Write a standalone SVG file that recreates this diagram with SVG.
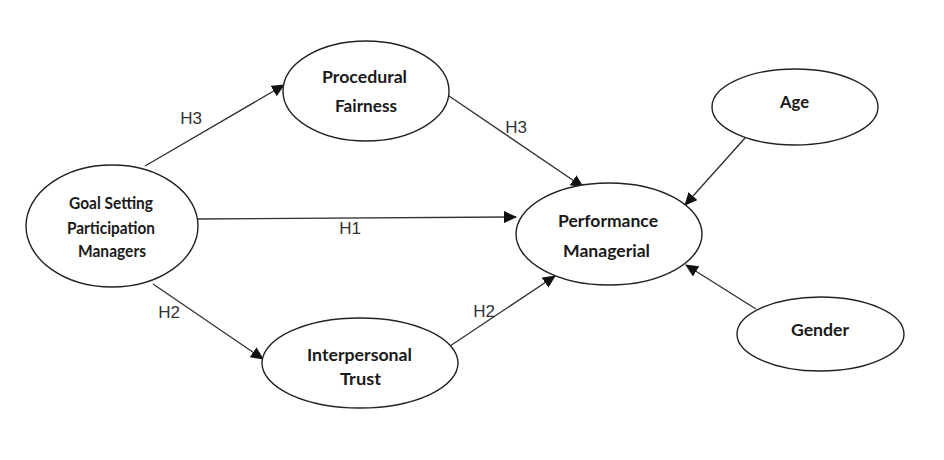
<svg xmlns="http://www.w3.org/2000/svg" width="944" height="460" viewBox="0 0 944 460">
<style>
.n{fill:#fff;stroke:#222;stroke-width:1.4}
.t{font-family:Lato,"Liberation Sans",sans-serif;font-size:17px;font-weight:700;fill:#1a1a1a;text-anchor:middle}
.l{font-family:"Liberation Sans",sans-serif;font-size:17px;fill:#333;text-anchor:middle}
.c{stroke:#333;stroke-width:1.4;fill:none;marker-end:url(#a)}
</style>
<defs><marker id="a" viewBox="0 0 13 12" refX="12" refY="6" markerWidth="13" markerHeight="12" markerUnits="userSpaceOnUse" orient="auto"><path d="M0 0L13 6L0 12Z" fill="#111"/></marker></defs>
<rect width="944" height="460" fill="#fff"/>
<g id="connectors">
<path class="c" d="M145 166L284 85"/>
<path class="c" d="M449 96L583 187"/>
<path class="c" d="M198 219L516 217"/>
<path class="c" d="M153 284L263 359"/>
<path class="c" d="M450 346L555 276"/>
<path class="c" d="M745 138L685 205"/>
<path class="c" d="M756 309L686 265"/>
<text class="l" x="191" y="124">H3</text>
<text class="l" x="516" y="133">H3</text>
<text class="l" x="350" y="234">H1</text>
<text class="l" x="169" y="318">H2</text>
<text class="l" x="484" y="317">H2</text>
</g>
<g id="procedural"><ellipse class="n" cx="366" cy="91" rx="83" ry="50"/><text class="t" x="364.500" y="83" textLength="85" lengthAdjust="spacingAndGlyphs">Procedural</text><text class="t" x="366" y="112" textLength="62" lengthAdjust="spacingAndGlyphs">Fairness</text></g>
<g id="age"><ellipse class="n" cx="795" cy="107" rx="83" ry="38"/><text class="t" x="794.500" y="108" textLength="29" lengthAdjust="spacingAndGlyphs">Age</text></g>
<g id="goal"><ellipse class="n" cx="112" cy="226" rx="86" ry="61"/><text class="t" x="111" y="209" textLength="84" lengthAdjust="spacingAndGlyphs">Goal Setting</text><text class="t" x="111" y="234" textLength="88" lengthAdjust="spacingAndGlyphs">Participation</text><text class="t" x="112" y="257" textLength="68" lengthAdjust="spacingAndGlyphs">Managers</text></g>
<g id="performance"><ellipse class="n" cx="609" cy="234" rx="93" ry="51"/><text class="t" x="608" y="227" textLength="100" lengthAdjust="spacingAndGlyphs">Performance</text><text class="t" x="606.500" y="257" textLength="87" lengthAdjust="spacingAndGlyphs">Managerial</text></g>
<g id="trust"><ellipse class="n" cx="360" cy="363" rx="98" ry="45"/><text class="t" x="359.500" y="361" textLength="105" lengthAdjust="spacingAndGlyphs">Interpersonal</text><text class="t" x="360.500" y="385" textLength="41" lengthAdjust="spacingAndGlyphs">Trust</text></g>
<g id="gender"><ellipse class="n" cx="820.500" cy="334" rx="83.500" ry="37"/><text class="t" x="820" y="336" textLength="58" lengthAdjust="spacingAndGlyphs">Gender</text></g>
</svg>
